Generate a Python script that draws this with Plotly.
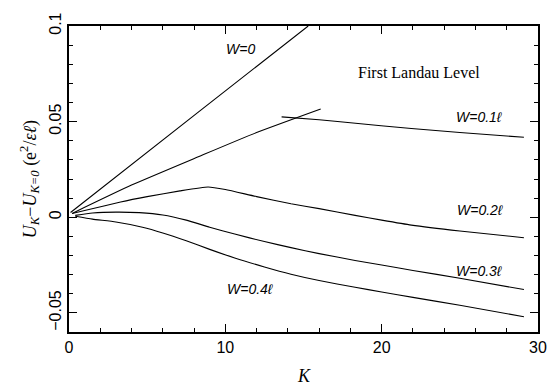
import plotly.graph_objects as go

# ---- data ----
w0_k = [0.1, 8.27, 15.3]
w0_u = [0.0025, 0.055, 0.1]

w01a_k = [0.2, 4.0, 8.27, 12.0, 16.1]
w01a_u = [0.002, 0.0168, 0.0316, 0.0443, 0.0566]

w01b_k = [13.6, 16.0, 18.0, 21.9, 25.0, 29.1]
w01b_u = [0.0525, 0.0510, 0.0494, 0.0464, 0.0443, 0.0418]

w02_k = [0.2, 1.0, 3.3, 5.0, 7.1, 8.9, 10.0, 12.0, 14.2, 16.0, 18.3, 20.0, 21.9, 25.0, 29.1]
w02_u = [0.002, 0.0035, 0.008, 0.0108, 0.0138, 0.0158, 0.0145, 0.0108, 0.0071, 0.0045,
         0.001, -0.0015, -0.0041, -0.0072, -0.0107]

w03_k = [0.4, 1.5, 3.0, 4.5, 6.0, 7.5, 9.0, 10.6, 12.5, 14.2, 16.0, 18.3, 20.0, 22.0, 25.0, 29.1]
w03_u = [0.001, 0.0022, 0.0027, 0.0024, 0.0012, -0.0015, -0.0052, -0.0088, -0.0127,
         -0.0159, -0.019, -0.0226, -0.025, -0.0278, -0.0319, -0.0378]

w04_k = [0.4, 1.5, 3.0, 4.7, 6.0, 7.5, 9.0, 10.6, 12.5, 14.2, 16.0, 18.3, 20.0, 22.0, 25.0, 29.1]
w04_u = [0.0005, -0.001, -0.0025, -0.0052, -0.0082, -0.0123, -0.0168, -0.0213, -0.026,
         -0.0298, -0.0331, -0.0366, -0.0391, -0.0419, -0.046, -0.052]

series = [(w0_k, w0_u), (w01a_k, w01a_u), (w01b_k, w01b_u),
          (w02_k, w02_u), (w03_k, w03_u), (w04_k, w04_u)]

labels = ["<i>W=0</i>", "<i>W=0.1ℓ</i>", "<i>W=0.2ℓ</i>", "<i>W=0.3ℓ</i>", "<i>W=0.4ℓ</i>"]
label_k = [11.0, 26.2, 26.3, 26.2, 11.6]
label_u = [0.0878, 0.0526, 0.0036, -0.028, -0.0375]

fig = go.Figure()
for k, u in series:
    fig.add_trace(go.Scatter(x=k, y=u, mode="lines",
                             line=dict(color="black", width=1.1, shape="spline", smoothing=0.5),
                             showlegend=False, hoverinfo="skip"))

ann = []
for t, kx, uy in zip(labels, label_k, label_u):
    ann.append(dict(x=kx, y=uy, xref="x", yref="y", text=t, showarrow=False,
                    font=dict(family="Liberation Sans", size=14, color="black")))
ann.append(dict(x=22.4, y=0.0755, xref="x", yref="y", text="First Landau Level",
                showarrow=False, font=dict(family="Liberation Serif", size=16, color="black")))
ann.append(dict(x=0.5, y=-0.144, xref="paper", yref="paper", text="<i>K</i>",
                showarrow=False, yanchor="middle",
                font=dict(family="Liberation Serif", size=18, color="black")))
ann.append(dict(x=-0.085, y=0.5, xref="paper", yref="paper", textangle=-90,
                text="<i>U</i><sub><i>K</i></sub>−<i>U</i><sub><i>K=0</i></sub> (e<sup>2</sup>/<i>εℓ</i>)",
                showarrow=False, xanchor="center",
                font=dict(family="Liberation Serif", size=18, color="black")))

axis_common = dict(showgrid=False, zeroline=False, showline=True, linecolor="black",
                   linewidth=1.5, mirror="allticks", ticks="inside", ticklen=8,
                   tickcolor="black", tickwidth=1,
                   tickfont=dict(family="Liberation Sans", size=16, color="black"))

fig.update_layout(
    width=559, height=390,
    margin=dict(l=69, r=21, t=19, b=58),
    paper_bgcolor="white", plot_bgcolor="white",
    xaxis=dict(range=[0, 30], dtick=10, tick0=0,
               minor=dict(dtick=2, ticks="inside", ticklen=4, tickcolor="black"),
               **axis_common),
    yaxis=dict(range=[-0.06, 0.1], dtick=0.05, tick0=0, tickangle=-90,
               minor=dict(dtick=0.01, ticks="inside", ticklen=4, tickcolor="black"),
               **axis_common),
    annotations=ann,
)

fig.write_html("out.html")
